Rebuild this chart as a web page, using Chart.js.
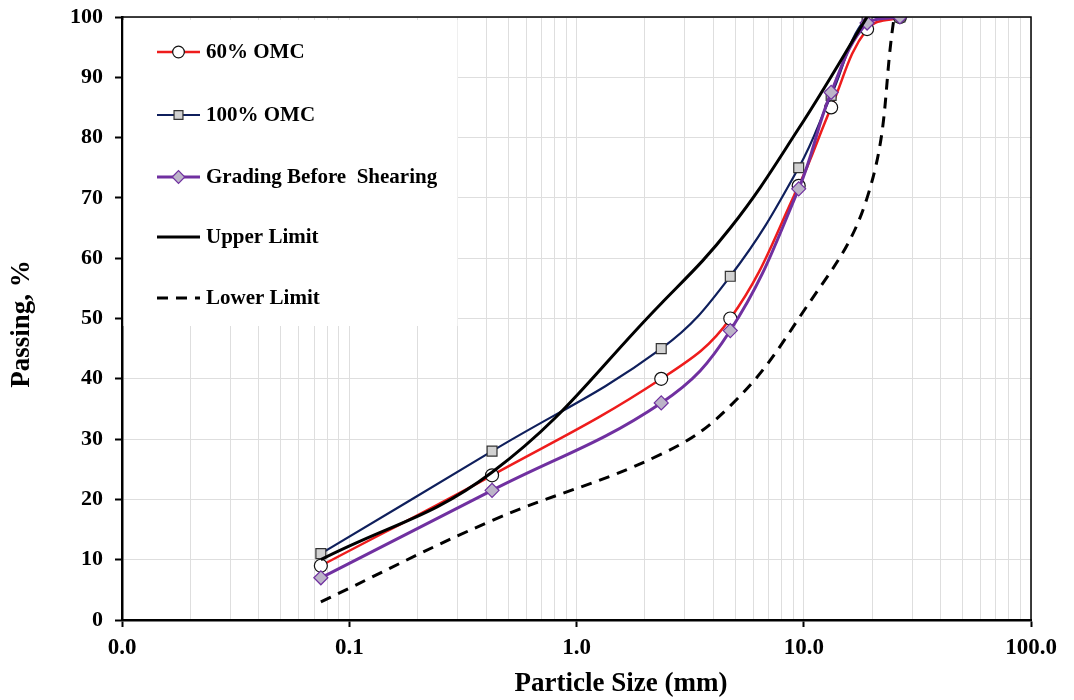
<!DOCTYPE html>
<html>
<head>
<meta charset="utf-8">
<script src="https://cdn.jsdelivr.net/npm/chart.js@4.4.0/dist/chart.umd.min.js"></script>
<style>
html,body{margin:0;padding:0;background:#fff;}
#wrap{width:1074px;height:700px;}
</style>
</head>
<body>
<div id="wrap"><canvas id="c" width="1074" height="700"></canvas></div>
<script>
// ---- data ----
const sieveSizes = [0.075, 0.425, 2.36, 4.75, 9.5, 13.2, 19, 26.5];
const omc60      = [9, 24, 40, 50, 72, 85, 98, 100];
const omc100     = [11, 28, 45, 57, 75, 87, 100, 100];
const beforeShear= [7, 21.5, 36, 48, 71.5, 87.5, 99, 100];
const upperSizes = [0.075, 0.425, 2.36, 4.75, 9.5, 19];
const upperLimit = [10, 24.5, 52.5, 65, 81.5, 100];
const lowerSizes = [0.075, 0.425, 2.36, 4.75, 9.5, 19, 25];
const lowerLimit = [3, 16.5, 27.5, 35.5, 50, 70, 100];
const xTickValues = [0.01, 0.1, 1, 10, 100];
const seriesNames = ['60% OMC', '100% OMC', 'Grading Before  Shearing', 'Upper Limit', 'Lower Limit'];
const xAxisTitle = 'Particle Size (mm)';
const yAxisTitle = 'Passing, %';

const toPts = (xs, ys) => xs.map((x, i) => ({x: x, y: ys[i]}));

// all minor positions for grid lines
const gridValues = [];
for (let e = -2; e <= 1; e++) {
  for (let m = 1; m <= 9; m++) gridValues.push(+(m * Math.pow(10, e)).toPrecision(3));
}
gridValues.push(100);
const isMajor = v => xTickValues.some(t => Math.abs(t - v) / t < 1e-6);

const FONT = '"Liberation Serif", "Times New Roman", serif';

const legendPlugin = {
  id: 'insideLegend',
  beforeDatasetsDraw(chart) {
    const ctx = chart.ctx;
    const a = chart.chartArea;
    ctx.save();
    ctx.fillStyle = '#fff';
    ctx.fillRect(a.left + 1.5, a.top + 3, 334, 306);
    ctx.restore();
  },
  afterDatasetsDraw(chart) {
    const ctx = chart.ctx;
    const a = chart.chartArea;
    const x0 = a.left + 35, x1 = a.left + 78, xm = (x0 + x1) / 2;
    const rows = [52, 115, 177, 237, 298];
    chart.data.datasets.forEach((ds, i) => {
      const y = rows[i];
      ctx.save();
      ctx.strokeStyle = ds.borderColor;
      ctx.lineWidth = ds.borderWidth;
      ctx.setLineDash(ds.borderDash || []);
      ctx.beginPath();
      ctx.moveTo(x0, y); ctx.lineTo(x1, y);
      ctx.stroke();
      ctx.setLineDash([]);
      if (ds.pointRadius > 0) {
        ctx.fillStyle = ds.pointBackgroundColor;
        ctx.strokeStyle = ds.pointBorderColor;
        ctx.lineWidth = ds.pointBorderWidth;
        Chart.helpers.drawPoint(ctx, {pointStyle: ds.pointStyle, rotation: 0,
          radius: ds.pointRadius * 0.9, borderWidth: ds.pointBorderWidth}, xm, y);
      }
      ctx.fillStyle = '#000';
      ctx.font = 'bold 21px ' + FONT;
      ctx.textBaseline = 'middle';
      ctx.textAlign = 'left';
      ctx.fillText(seriesNames[i], x1 + 6, y + 1);
      ctx.restore();
    });
  },
  afterDraw(chart) {
    const ctx = chart.ctx;
    const a = chart.chartArea;
    ctx.save();
    ctx.strokeStyle = '#000';
    ctx.lineWidth = 1.5;
    ctx.beginPath();
    ctx.moveTo(a.left, a.top); ctx.lineTo(a.right, a.top); ctx.lineTo(a.right, a.bottom);
    ctx.stroke();
    // axis titles
    ctx.fillStyle = '#000';
    ctx.font = 'bold 27px ' + FONT;
    ctx.textAlign = 'center';
    ctx.textBaseline = 'middle';
    ctx.fillText(xAxisTitle, 621, 684);
    ctx.translate(22, 324);
    ctx.rotate(-Math.PI / 2);
    ctx.fillText(yAxisTitle, 0, 0);
    ctx.restore();
  }
};

const ds = (label, data, color, width, extra) => Object.assign({
  label: label,
  data: data,
  borderColor: color,
  borderWidth: width,
  pointRadius: 0,
  pointHoverRadius: 0,
  tension: 0.4,
  fill: false
}, extra);

const chart = new Chart(document.getElementById('c'), {
  type: 'line',
  data: {
    datasets: [
      ds(seriesNames[0], toPts(sieveSizes, omc60), '#ee1c1c', 2.5, {
        pointStyle: 'circle', pointRadius: 6.5, pointBackgroundColor: '#ffffff',
        pointBorderColor: '#111', pointBorderWidth: 1.2, order: 5}),
      ds(seriesNames[1], toPts(sieveSizes, omc100), '#0f1f5c', 2.2, {
        pointStyle: 'rect', pointRadius: 7, pointBackgroundColor: '#d2d2d2',
        pointBorderColor: '#333', pointBorderWidth: 1.2, order: 4}),
      ds(seriesNames[2], toPts(sieveSizes, beforeShear), '#7030a0', 3, {
        pointStyle: 'rectRot', pointRadius: 7, pointBackgroundColor: '#bcb4c8',
        pointBorderColor: '#7030a0', pointBorderWidth: 1.2, order: 3}),
      ds(seriesNames[3], toPts(upperSizes, upperLimit), '#000000', 3, {order: 2}),
      ds(seriesNames[4], toPts(lowerSizes, lowerLimit), '#000000', 3, {borderDash: [11, 8], order: 1})
    ]
  },
  options: {
    responsive: false,
    animation: false,
    events: [],
    layout: {padding: {top: 17, right: 43, left: 0, bottom: 0}},
    plugins: {legend: {display: false}, tooltip: {enabled: false}},
    scales: {
      x: {
        type: 'logarithmic',
        min: 0.01, max: 100,
        afterBuildTicks(scale) { scale.ticks = gridValues.map(v => ({value: v, major: isMajor(v)})); },
        afterFit(scale) { scale.height = 80; scale.paddingLeft = 0; scale.paddingRight = 0; },
        border: {color: '#000', width: 2.5},
        grid: {
          color: '#dedede', lineWidth: 1, drawTicks: true, tickLength: 7,
          tickColor: c => (c.tick && isMajor(c.tick.value)) ? '#000' : 'rgba(0,0,0,0)',
          tickWidth: 2
        },
        ticks: {
          autoSkip: false, maxRotation: 0, minRotation: 0, padding: 7,
          color: '#000', font: {family: FONT, size: 23, weight: 'bold'},
          callback: v => isMajor(v) ? Number(v).toFixed(1) : ''
        },
        title: {display: false}
      },
      y: {
        min: 0, max: 100,
        afterFit(scale) { scale.width = 122; scale.paddingTop = 0; scale.paddingBottom = 0; },
        border: {color: '#000', width: 2.5},
        grid: {color: '#dedede', lineWidth: 1, tickLength: 7, tickColor: '#000', tickWidth: 2},
        ticks: {stepSize: 10, padding: 12, color: '#000',
          font: {family: FONT, size: 22, weight: 'bold'}},
        title: {display: false}
      }
    }
  },
  plugins: [legendPlugin]
});
</script>
</body>
</html>
